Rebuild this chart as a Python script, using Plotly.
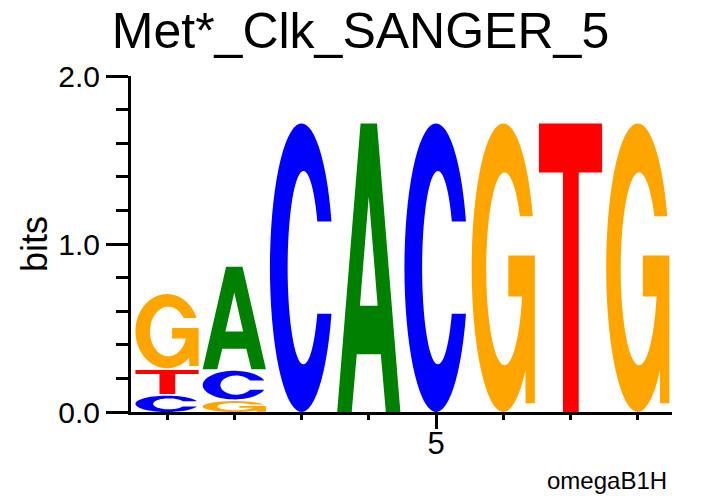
import math
import plotly.graph_objects as go

# ---------------- data ----------------
title_text = "Met*_Clk_SANGER_5"
positions = [1, 2, 3, 4, 5, 6, 7, 8]
letters = ["A", "C", "G", "T"]
heights_A = [0.0, 0.62, 0.0, 1.728, 0.0, 0.0, 0.0, 0.0]
heights_C = [0.107, 0.18, 1.728, 0.0, 1.728, 0.0, 0.0, 0.0]
heights_G = [0.452, 0.075, 0.0, 0.0, 0.0, 1.728, 0.0, 1.728]
heights_T = [0.153, 0.0, 0.0, 0.0, 0.0, 0.0, 1.728, 0.0]
y_tick_vals = [0.0, 1.0, 2.0]
y_tick_text = ["0.0", "1.0", "2.0"]
x_tick_vals = [5]
x_tick_text = ["5"]
y_label = "bits"
footer = "omegaB1H"

colors = {"A": "#008000", "C": "#0000FF", "G": "#FFA500", "T": "#FF0000"}
FONT = "Liberation Sans, Arial, Helvetica, sans-serif"

# ---------------- glyph outlines in a unit box ----------------
def arc(cx, cy, rx, ry, a0, a1, n=60):
    pts = []
    for i in range(n + 1):
        a = math.radians(a0 + (a1 - a0) * i / n)
        pts.append((cx + rx * math.cos(a), cy + ry * math.sin(a)))
    return pts

def glyph_C():
    outer = arc(0.5, 0.5, 0.5, 0.5, 18.66, 341.34)
    inner = arc(0.53, 0.5, 0.25, 0.335, 331.5, 28.5)
    return [outer + inner]

def glyph_G():
    outer = arc(0.5, 0.5, 0.5, 0.5, 20.86, 314.43)
    mid = [(0.853, 0.03), (1.0, 0.03), (1.0, 0.542), (0.58, 0.542), (0.58, 0.40)]
    inner = arc(0.52, 0.496, 0.29, 0.334, -16.7, -327.0)
    return [outer + mid + inner]

def glyph_A():
    outer = [(0.0, 0.0), (0.37, 1.0), (0.63, 1.0), (1.0, 0.0), (0.77, 0.0),
             (0.69, 0.2), (0.31, 0.2), (0.23, 0.0)]
    hole = [(0.36, 0.368), (0.5, 0.747), (0.64, 0.368)]
    return [outer, hole]

def glyph_T():
    return [[(0.0, 1.0), (1.0, 1.0), (1.0, 0.83), (0.63, 0.83), (0.63, 0.0),
             (0.38, 0.0), (0.38, 0.83), (0.0, 0.83)]]

glyphs = {"A": glyph_A(), "C": glyph_C(), "G": glyph_G(), "T": glyph_T()}

LETTER_W = 0.94
GAP = 0.01

def glyph_path(letter, xc, y0, h):
    parts = []
    for poly in glyphs[letter]:
        coords = [(xc - LETTER_W / 2 + u * LETTER_W, y0 + v * h) for u, v in poly]
        s = "M" + " L".join(f"{x:.5f},{y:.5f}" for x, y in coords) + " Z"
        parts.append(s)
    return " ".join(parts)

heights = {"A": heights_A, "C": heights_C, "G": heights_G, "T": heights_T}

shapes = []
for i, pos in enumerate(positions):
    stack = sorted([(heights[l][i], l) for l in letters if heights[l][i] > 0])
    base = 0.0
    for h, l in stack:
        shapes.append(dict(type="path", xref="x", yref="y",
                           path=glyph_path(l, pos, base, h - GAP),
                           fillcolor=colors[l], line=dict(width=0),
                           fillrule="evenodd", layer="above"))
        base += h

fig = go.Figure()
fig.add_trace(go.Scatter(x=positions, y=[0] * len(positions), mode="markers",
                         marker=dict(opacity=0), hoverinfo="skip", showlegend=False))

fig.update_layout(
    width=721, height=496,
    margin=dict(l=131, r=49, t=76, b=84),
    paper_bgcolor="white", plot_bgcolor="white",
    shapes=shapes,
    showlegend=False,
    font=dict(family=FONT, color="black"),
    title=dict(text=title_text, x=0.5, xref="container", xanchor="center",
               y=1 - 30.5 / 496, yref="container", yanchor="middle",
               font=dict(size=50, family=FONT, color="black")),
)

fig.update_xaxes(range=[0.464, 8.509], showline=True, linewidth=3, linecolor="black",
                 showgrid=False, zeroline=False, ticks="outside",
                 tickvals=x_tick_vals, ticktext=x_tick_text, ticklen=14, tickwidth=3,
                 tickcolor="black", tickfont=dict(size=31, family=FONT),
                 ticklabelstandoff=-12,
                 minor=dict(tickvals=positions, ticklen=5, tickwidth=3, tickcolor="black",
                            ticks="outside", showgrid=False))
fig.update_yaxes(range=[0, 2], showline=True, linewidth=3, linecolor="black",
                 showgrid=False, zeroline=False, ticks="outside",
                 tickvals=y_tick_vals, ticktext=y_tick_text, ticklen=22, tickwidth=3,
                 tickcolor="black", tickfont=dict(size=30, family=FONT),
                 minor=dict(dtick=0.2, tick0=0, ticklen=12, tickwidth=3, tickcolor="black",
                            ticks="outside", showgrid=False))

fig.add_annotation(text=y_label, xref="paper", yref="paper", x=0, y=0.5,
                   xanchor="center", yanchor="middle", xshift=-97, textangle=-90,
                   showarrow=False, font=dict(size=36, family=FONT, color="black"))
fig.add_annotation(text=footer, xref="paper", yref="paper", x=(669 - 131) / 541,
                   y=0, xanchor="right", yanchor="bottom",
                   yshift=-84, showarrow=False,
                   font=dict(size=24, family=FONT, color="black"))

fig.write_html("out.html", config={"displayModeBar": False},
               post_script="document.body.style.margin='0';")
